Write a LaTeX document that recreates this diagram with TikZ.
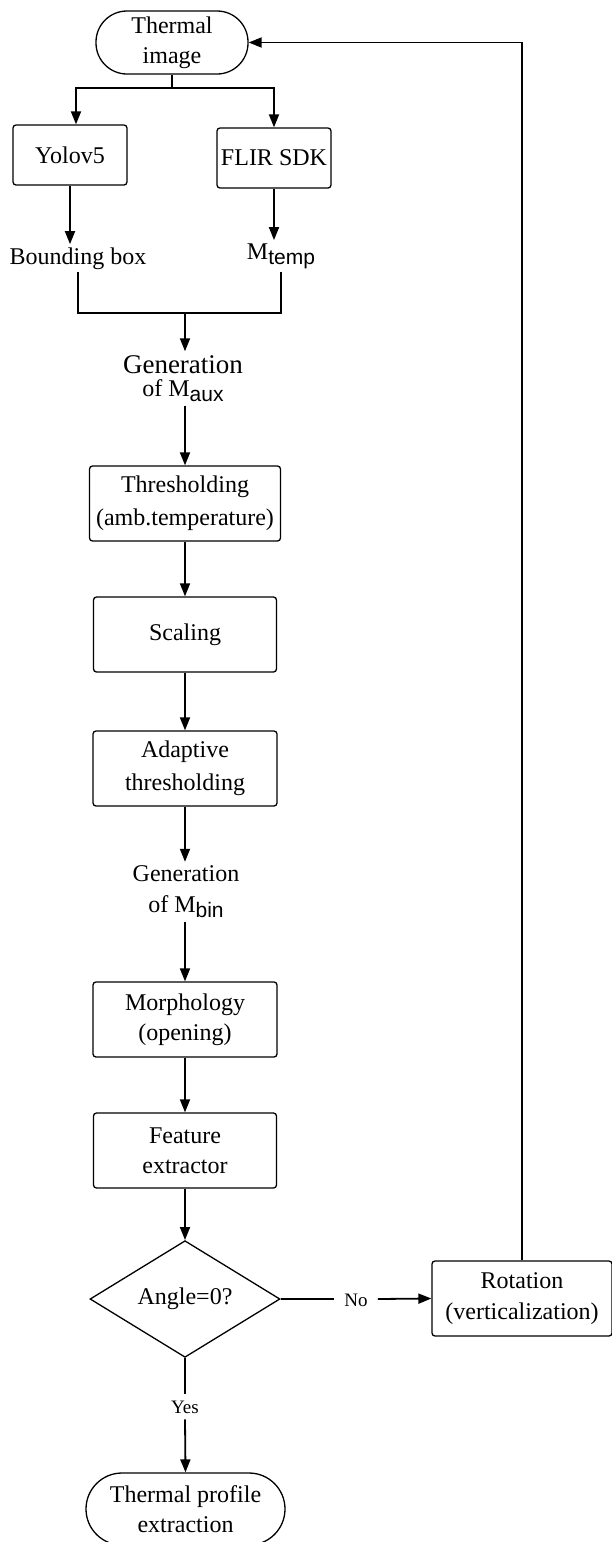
\documentclass[tikz,border=0pt]{standalone}
\usepackage{fontspec}
\setmainfont{Liberation Serif}
\setsansfont{Liberation Sans}
\usetikzlibrary{shapes.geometric,arrows.meta}
\newcommand{\mysubtxt}[1]{\raisebox{-5pt}{\sffamily\fontsize{21}{21}\selectfont #1}}
\begin{document}
\begin{tikzpicture}[x=1pt,y=-1pt,
  every node/.style={font=\fontsize{24}{31}\selectfont, align=center},
  proc/.style={draw, line width=1.3pt, rounded corners=3pt, minimum width=184pt, minimum height=75pt, inner sep=0pt},
  term/.style={draw, line width=1.3pt, inner sep=0pt},
  lbl/.style={inner sep=3pt},
  conn/.style={line width=1.8pt},
  arr/.style={conn, -{Triangle[length=13pt,width=10pt]}}
]
\useasboundingbox (0,0) rectangle (612,1542);

% nodes
\node[term, minimum width=152pt, minimum height=63pt, rounded corners=31pt, font=\fontsize{24}{30}\selectfont] (thermal) at (172,42.5) {Thermal\\image};
\node[proc, minimum width=114pt, minimum height=60pt] (yolo) at (70,155) {Yolov5};
\node[proc, minimum width=114pt, minimum height=60pt] (flir) at (274,158) {FLIR SDK};
\node[lbl, anchor=base] (bbox) at (78,264) {Bounding box};
\node[lbl, anchor=base] (mtemp) at (281,259) {M\mysubtxt{temp}};
\node[lbl, inner sep=4pt, font=\fontsize{24}{23}\selectfont] (gen1) at (183,378.5) {\fontsize{27}{23}\selectfont Generation\\\fontsize{24}{23}\selectfont of M\mysubtxt{aux}};
\node[proc, minimum width=191pt, font=\fontsize{24}{33}\selectfont] (thr) at (185,503.5) {Thresholding\\(amb.temperature)};
\node[proc, minimum width=183pt] (scal) at (185,634.5) {Scaling};
\node[proc, font=\fontsize{24}{33}\selectfont] (adap) at (185,768.5) {Adaptive\\thresholding};
\node[lbl, inner sep=4pt] (gen2) at (186,892) {Generation\\of M\mysubtxt{bin}};
\node[proc, font=\fontsize{24}{30}\selectfont] (morph) at (185,1019.5) {Morphology\\(opening)};
\node[proc, minimum width=183pt, font=\fontsize{24}{30}\selectfont] (feat) at (185,1150.5) {Feature\\extractor};
\node[draw, diamond, line width=1.3pt, minimum width=190pt, minimum height=106pt, inner sep=0pt] (dia) at (185,1299) {Angle=0?};
\node[font=\fontsize{19}{19}\selectfont, inner xsep=10pt, inner ysep=2pt, anchor=base] (no) at (356,1306) {No};
\node[proc, minimum width=180pt] (rot) at (522,1298.5) {Rotation\\(verticalization)};
\node[font=\fontsize{19}{19}\selectfont, inner ysep=6pt, anchor=base] (yes) at (185,1413) {Yes};
\node[term, minimum width=199pt, minimum height=72pt, rounded corners=36pt, font=\fontsize{24}{30}\selectfont] (prof) at (185.5,1509) {Thermal profile\\extraction};

% connectors
\coordinate (split) at (172,88);
\draw[conn] (thermal.south) -- (split);
\draw[arr] (split) -| ([xshift=6pt]yolo.north);
\draw[arr] (split) -| (flir.north);
\draw[arr] (yolo.south) -- (yolo.south |- bbox.north);
\draw[arr] (flir.south) -- (flir.south |- mtemp.north);
\coordinate (merge) at (185,313);
\draw[conn] (bbox.south) |- (merge);
\draw[conn] (mtemp.south) |- (merge);
\draw[arr] (merge) -- (merge |- gen1.north);
\draw[arr] (thr.north |- gen1.south) -- (thr.north);
\draw[arr] (thr.south) -- (scal.north);
\draw[arr] (scal.south) -- (adap.north);
\draw[arr] (adap.north |- adap.south) -- (adap.south |- gen2.north);
\draw[arr] (morph.north |- gen2.south) -- (morph.north);
\draw[arr] (morph.south) -- (feat.north);
\draw[arr] (feat.south) -- (dia.north);
\draw[conn] (dia.east) -- (no.west |- dia.east);
\draw[arr] (no.east |- dia.east) -- (rot.west);
\draw[arr] (rot.north) |- (thermal.east);
\draw[conn] (dia.south) -- (yes.north);
\draw[arr] (yes.south) -- (prof.north);
\end{tikzpicture}
\end{document}
